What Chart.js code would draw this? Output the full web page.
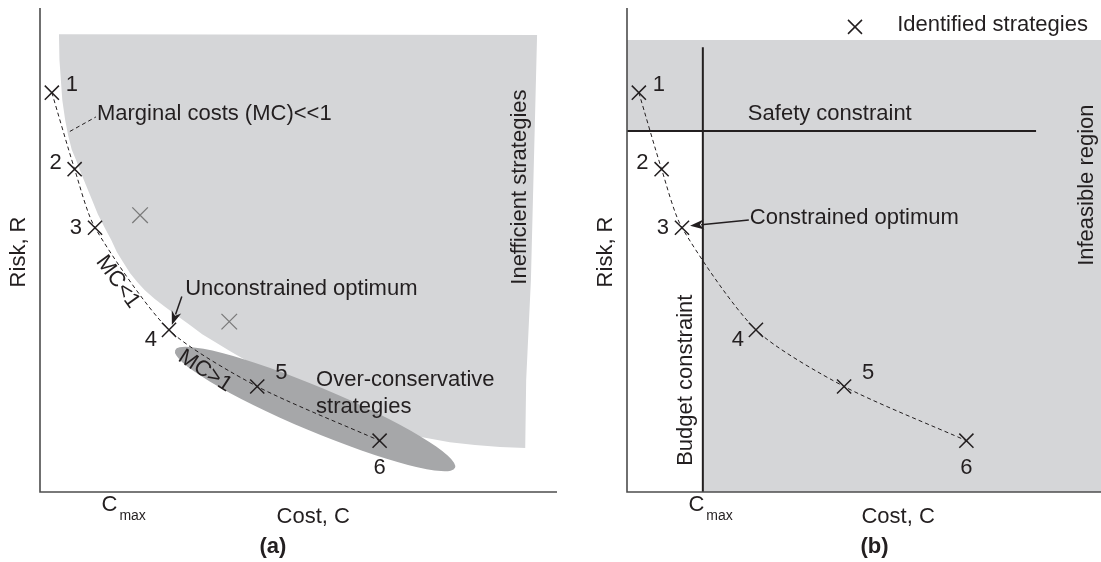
<!DOCTYPE html>
<html>
<head>
<meta charset="utf-8">
<title>Risk vs cost strategies</title>
<script src="https://cdn.jsdelivr.net/npm/chart.js@4.4.0/dist/chart.umd.min.js"></script>
<style>
  html, body { margin: 0; padding: 0; background: #fff; }
  #wrap { position: relative; width: 1101px; height: 562px; overflow: hidden; }
  canvas { position: absolute; top: 0; }
  #chartA { left: 0; }
  #chartB { left: 560px; }
</style>
</head>
<body>
<div id="wrap">
  <canvas id="chartA" width="560" height="562"></canvas>
  <canvas id="chartB" width="541" height="562"></canvas>
</div>
<script>
// ── Identified strategies (same in both panels) ──────────────
const strategyNames = ['1', '2', '3', '4', '5', '6'];
const strategyCost  = [2.5, 7.3, 11.6, 27.2, 45.8, 71.6];
const strategyRisk  = [82.5, 66.7, 54.6, 33.5, 21.8, 10.6];

// ── Inefficient strategies (panel a) ─────────────────────────
const inefficientCost = [21.1, 39.9];
const inefficientRisk = [57.2, 35.2];

// outline of the inefficient region, clockwise from top-left
const inefficientEdgeCost = [4.0, 104.8, 103.5, 102.5, 102.3, 97.0, 91.7, 86.4, 81.2, 75.9, 71.7, 67.5,
                             63.3, 59.0, 54.8, 50.6, 46.8, 43.2, 40.1, 36.9, 34.2, 31.6, 28.9, 26.4,
                             24.2, 22.1, 20.5, 19.0, 17.5, 16.2, 15.0, 13.7, 12.2, 11.0, 9.7, 8.4,
                             7.6, 6.7, 5.9, 5.3, 4.7, 4.4, 4.1];
const inefficientEdgeRisk = [94.6, 94.4, 43.8, 23.1, 9.1, 9.3, 9.7, 10.3, 11.2, 12.2, 13.4, 14.9,
                             16.9, 19.0, 21.1, 23.1, 25.2, 27.3, 29.1, 31.0, 32.6, 34.5, 36.4, 38.2,
                             39.9, 41.7, 43.4, 45.2, 47.5, 49.6, 52.1, 54.5, 57.4, 60.3, 63.4, 66.5,
                             68.6, 70.7, 73.8, 76.9, 81.0, 85.1, 89.3];

// over-conservative ellipse: the two ends of its long axis
const overConsCost = [28.5, 87.5];
const overConsRisk = [29.3, 5.0];

// ── Constraints (panel b) ────────────────────────────────────
const cMax          = 16;
const safetyRisk    = 74.6;
const budgetTopRisk = 91.9;
const safetyEndCost = 86.3;
const infeasibleTop = 93.4;
const infeasibleCost = [0, 0, 100, 100, cMax, cMax];
const infeasibleRisk = [safetyRisk, infeasibleTop, infeasibleTop, 0, 0, safetyRisk];

// ── Styles ───────────────────────────────────────────────────
const FONT  = '"Liberation Sans", Arial, Helvetica, sans-serif';
const INK   = '#231f20';
const LIGHT = '#d5d6d8';
const DARK  = '#a6a7a9';
const AXIS  = '#4d4d4d';

// offsets of the number labels from their cross (px) + alignment
const labelOffsets = [[14, -8, 'left'], [-13, -6, 'right'], [-13, 0, 'right'],
                      [-12, 10, 'right'], [18, -14, 'left'], [0, 27, 'center']];

const pts = (xs, ys) => xs.map((x, i) => ({ x, y: ys[i] }));

// ── Drawing helpers ──────────────────────────────────────────
function drawText(ctx, str, x, y, o = {}) {
  ctx.save();
  ctx.translate(x, y);
  if (o.rotate) ctx.rotate(o.rotate * Math.PI / 180);
  ctx.font = `${o.bold ? 'bold ' : ''}${o.size || 22}px ${FONT}`;
  ctx.fillStyle = o.color || INK;
  ctx.textAlign = o.align || 'left';
  ctx.textBaseline = 'middle';
  ctx.fillText(str, 0, 0);
  ctx.restore();
}

function drawArrow(ctx, x1, y1, x2, y2) {
  const ang = Math.atan2(y2 - y1, x2 - x1);
  const len = 14, half = 5;
  ctx.save();
  ctx.strokeStyle = INK;
  ctx.fillStyle = INK;
  ctx.lineWidth = 1.5;
  ctx.beginPath();
  ctx.moveTo(x1, y1);
  ctx.lineTo(x2 - Math.cos(ang) * len * 0.8, y2 - Math.sin(ang) * len * 0.8);
  ctx.stroke();
  ctx.beginPath();
  ctx.moveTo(x2, y2);
  ctx.lineTo(x2 - Math.cos(ang) * len + Math.sin(ang) * half, y2 - Math.sin(ang) * len - Math.cos(ang) * half);
  ctx.lineTo(x2 - Math.cos(ang) * len * 0.7, y2 - Math.sin(ang) * len * 0.7);
  ctx.lineTo(x2 - Math.cos(ang) * len - Math.sin(ang) * half, y2 - Math.sin(ang) * len + Math.cos(ang) * half);
  ctx.closePath();
  ctx.fill();
  ctx.restore();
}

function drawCross(ctx, x, y, r, color) {
  ctx.save();
  ctx.strokeStyle = color;
  ctx.lineWidth = 1.5;
  ctx.beginPath();
  ctx.moveTo(x - r, y - r); ctx.lineTo(x + r, y + r);
  ctx.moveTo(x + r, y - r); ctx.lineTo(x - r, y + r);
  ctx.stroke();
  ctx.restore();
}

// ── Plugin: ellipse, axes, labels, arrows ────────────────────
const sketchPlugin = {
  id: 'sketch',
  afterDatasetDraw(chart, args, opts) {
    if (!opts.ellipse || args.index !== opts.ellipse.after) return;
    const { x, y } = chart.scales;
    const e = opts.ellipse;
    const x1 = x.getPixelForValue(e.cost[0]), y1 = y.getPixelForValue(e.risk[0]);
    const x2 = x.getPixelForValue(e.cost[1]), y2 = y.getPixelForValue(e.risk[1]);
    const ctx = chart.ctx;
    ctx.save();
    ctx.fillStyle = DARK;
    ctx.beginPath();
    ctx.ellipse((x1 + x2) / 2, (y1 + y2) / 2, Math.hypot(x2 - x1, y2 - y1) / 2, e.halfWidth,
                Math.atan2(y2 - y1, x2 - x1), 0, Math.PI * 2);
    ctx.fill();
    ctx.restore();
  },
  afterDatasetsDraw(chart, args, opts) {
    const ctx = chart.ctx;
    const { x, y } = chart.scales;
    const area = chart.chartArea;
    const px = v => x.getPixelForValue(v);
    const py = v => y.getPixelForValue(v);

    // axes
    ctx.save();
    ctx.strokeStyle = AXIS;
    ctx.lineWidth = 1.6;
    ctx.beginPath();
    ctx.moveTo(area.left, area.top);
    ctx.lineTo(area.left, area.bottom);
    ctx.lineTo(area.right, area.bottom);
    ctx.stroke();
    ctx.restore();

    // dashed leader lines
    (opts.leaders || []).forEach(l => {
      ctx.save();
      ctx.strokeStyle = INK;
      ctx.lineWidth = 1;
      ctx.setLineDash([4, 3]);
      ctx.beginPath();
      ctx.moveTo(px(l.from[0]), py(l.from[1]));
      ctx.lineTo(px(l.to[0]), py(l.to[1]));
      ctx.stroke();
      ctx.restore();
    });

    (opts.arrows || []).forEach(a =>
      drawArrow(ctx, px(a.from[0]), py(a.from[1]), px(a.to[0]), py(a.to[1])));

    // numbers next to the strategies
    strategyNames.forEach((name, i) => {
      const [dx, dy, align] = labelOffsets[i];
      drawText(ctx, name, px(strategyCost[i]) + dx, py(strategyRisk[i]) + dy, { align });
    });

    // C max tick label
    drawText(ctx, 'C', px(cMax) - 6.5, area.bottom + 13, { align: 'center' });
    drawText(ctx, 'max', px(cMax) + 3.5, area.bottom + 24, { size: 14 });

    (opts.texts || []).forEach(t => {
      const tx = t.x !== undefined ? px(t.x) : area.left + t.dx;
      const ty = t.y !== undefined ? py(t.y) : area.bottom + t.dy;
      drawText(ctx, t.text, tx, ty, t);
    });

    if (opts.legend) drawCross(ctx, px(opts.legend[0]), py(opts.legend[1]), 7, INK);
  }
};

function baseOptions(xMax, padding, sketch) {
  return {
    responsive: false,
    animation: false,
    events: [],
    layout: { padding, autoPadding: false },
    plugins: { legend: { display: false }, tooltip: { enabled: false }, sketch },
    scales: {
      x: { type: 'linear', min: 0, max: xMax, display: false },
      y: { type: 'linear', min: 0, max: 100, display: false }
    }
  };
}

function strategyDatasets() {
  return [
    { type: 'scatter', data: pts(strategyCost, strategyRisk), pointStyle: 'crossRot',
      pointRadius: 10, pointBorderWidth: 1.5, borderColor: INK, backgroundColor: INK, order: 1 },
    { type: 'line', data: pts(strategyCost, strategyRisk), borderColor: INK, borderWidth: 1,
      borderDash: [4, 3], pointRadius: 0, tension: 0.25, fill: false, order: 2 }
  ];
}

// ── Panel (a) ────────────────────────────────────────────────
new Chart(document.getElementById('chartA'), {
  type: 'scatter',
  data: {
    datasets: [
      ...strategyDatasets(),
      { type: 'scatter', data: pts(inefficientCost, inefficientRisk), pointStyle: 'crossRot',
        pointRadius: 11, pointBorderWidth: 1.3, borderColor: '#7a7a7a', order: 1 },
      { type: 'line', data: pts(inefficientEdgeCost, inefficientEdgeRisk), fill: 'shape',
        backgroundColor: LIGHT, borderColor: 'transparent', borderWidth: 0, pointRadius: 0,
        tension: 0, order: 5 }
    ]
  },
  options: baseOptions(109, { left: 40, top: 8, right: 3, bottom: 70 }, {
    ellipse: { after: 3, cost: overConsCost, risk: overConsRisk, halfWidth: 22 },
    leaders: [{ from: [6.3, 74.5], to: [11.8, 77.5] }],
    arrows: [{ from: [29.9, 40.4], to: [27.8, 34.5] }],
    texts: [
      { text: 'Marginal costs (MC)<<1', x: 12.0, y: 78.1 },
      { text: 'MC<1', x: 16.4, y: 43.4, align: 'center', rotate: 54 },
      { text: 'MC>1', x: 34.8, y: 25.0, align: 'center', rotate: 33 },
      { text: 'Unconstrained optimum', x: 30.6, y: 41.9 },
      { text: 'Over-conservative', x: 58.2, y: 23.1 },
      { text: 'strategies', x: 58.2, y: 17.6 },
      { text: 'Inefficient strategies', x: 101.2, y: 63.0, align: 'center', rotate: -90 },
      { text: 'Risk, R', dx: -21, y: 49.6, align: 'center', rotate: -90 },
      { text: 'Cost, C', x: 57.6, dy: 25, align: 'center' },
      { text: '(a)', x: 49.1, dy: 55, align: 'center', bold: true }
    ]
  }),
  plugins: [sketchPlugin]
});

// ── Panel (b) ────────────────────────────────────────────────
new Chart(document.getElementById('chartB'), {
  type: 'scatter',
  data: {
    datasets: [
      ...strategyDatasets(),
      { type: 'line', data: pts([cMax, cMax], [0, budgetTopRisk]), borderColor: INK,
        borderWidth: 2, pointRadius: 0, fill: false, order: 3 },
      { type: 'line', data: pts([0, safetyEndCost], [safetyRisk, safetyRisk]), borderColor: INK,
        borderWidth: 2, pointRadius: 0, fill: false, order: 3 },
      { type: 'line', data: pts(infeasibleCost, infeasibleRisk), fill: 'shape',
        backgroundColor: LIGHT, borderColor: 'transparent', borderWidth: 0, pointRadius: 0,
        tension: 0, order: 5 }
    ]
  },
  options: baseOptions(100, { left: 67, top: 8, right: 0, bottom: 70 }, {
    arrows: [{ from: [25.7, 56.2], to: [13.3, 55.0] }],
    legend: [48.1, 96.1],
    texts: [
      { text: 'Identified strategies', x: 57.0, y: 96.5 },
      { text: 'Safety constraint', x: 25.5, y: 78.1 },
      { text: 'Constrained optimum', x: 25.9, y: 56.6 },
      { text: 'Infeasible region', x: 97.0, y: 63.4, align: 'center', rotate: -90 },
      { text: 'Budget constraint', x: 12.4, y: 23.1, align: 'center', rotate: -90 },
      { text: 'Risk, R', dx: -21, y: 49.6, align: 'center', rotate: -90 },
      { text: 'Cost, C', x: 57.2, dy: 25, align: 'center' },
      { text: '(b)', x: 52.2, dy: 55, align: 'center', bold: true }
    ]
  }),
  plugins: [sketchPlugin]
});
</script>
</body>
</html>
